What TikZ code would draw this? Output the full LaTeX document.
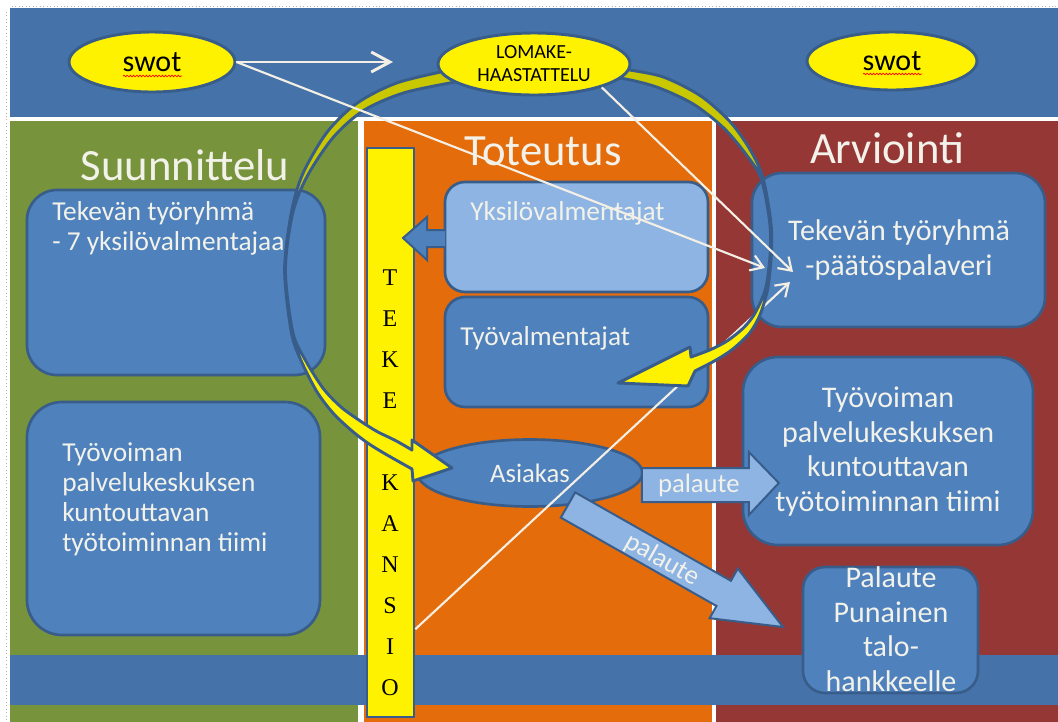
\documentclass[tikz,border=0pt]{standalone}
\usepackage{fontspec}
\setmainfont{Carlito}
\newfontfamily\kansiofont{Liberation Serif}
\usetikzlibrary{shapes.geometric,arrows.meta,calc,decorations.pathmorphing}
\definecolor{bandblue}{HTML}{4672AA}
\definecolor{boxblue}{HTML}{4F81BD}
\definecolor{boxedge}{HTML}{385D8A}
\definecolor{lightbox}{HTML}{8DB4E2}
\definecolor{panelgreen}{HTML}{77933C}
\definecolor{panelorange}{HTML}{E46C0A}
\definecolor{panelred}{HTML}{953735}
\definecolor{olivearc}{HTML}{C9C800}
\definecolor{lighttext}{HTML}{F2F2EA}
\definecolor{linewhite}{HTML}{F4EFE4}
\def\leftarc{plot[smooth] coordinates {(460,67) (449.7,69.9) (396.6,83.0) (356.5,103.5) (326.7,132.7) (302.7,174.0) (291.3,212.8) (284.6,270) (291.3,332.2) (301.1,360.7) (316.9,391.7) (332.9,412.9) (350.1,429.3) (366.8,442.4) (384.7,453.6) (412,469)} -- (413,481) -- (452,468) -- (412,440) -- plot[smooth] coordinates {(412,450) (395.3,440.4) (377.2,431.6) (359.9,420.7) (341.1,407.1) (323.1,388.3) (304.9,359.3) (292.7,331.8) (285.4,270) (292.7,213.2) (307.3,176.0) (333.3,137.3) (363.5,110.5) (403.4,93.0) (454.3,82.1) (462,81)} -- cycle}
\def\rightarc{plot[smooth] coordinates {(616,67) (627.2,69.5) (663.4,77.0) (700.8,96.0) (730.6,122.3) (750.6,150.5) (762.9,177.6) (770.6,220) (771.6,250) (768,287) (760.4,313.9) (749.8,332.8) (732.5,349.3) (715.4,360.4) (695,371)} -- (688,386) -- (618,383) -- (690,347) -- plot[smooth] coordinates {(691,357) (710.6,349.6) (727.5,340.7) (744.2,327.2) (755.6,312.1) (766,287) (770.4,250) (769.4,220) (761.1,178.4) (745.4,153.5) (723.4,127.7) (693.2,104.0) (656.6,87.0) (622.8,78.5) (614,80)} -- cycle}
\begin{document}
\begin{tikzpicture}[x=0.75pt,y=-0.75pt,
  box/.style={rectangle, draw=boxedge, fill=boxblue, line width=2pt, inner sep=0pt, outer sep=0pt},
  lbox/.style={box, fill=lightbox},
  oval/.style={ellipse, draw=boxedge, line width=2.2pt, fill=yellow, inner sep=0pt, text=black},
  title/.style={text=lighttext, font=\fontsize{33.5pt}{36pt}\selectfont, inner sep=0pt, anchor=base},
  boxtext/.style={text=lighttext, font=\fontsize{20.5pt}{22.5pt}\selectfont, inner sep=0pt, align=left},
  bigtext/.style={text=lighttext, font=\fontsize{22.5pt}{26pt}\selectfont, inner sep=0pt, align=center},
  conn/.style={draw=linewhite, line width=1.6pt, -{Straight Barb[length=9pt,width=12pt]}},
  topconn/.style={draw=linewhite, line width=2.2pt, -{Straight Barb[length=14pt,width=15pt]}},
  blockarrow/.style={draw=boxedge, line width=1.5pt, fill=lightbox, line join=miter},
  ringedge/.style={draw=boxedge, line width=2.2pt, line join=round},
  squiggle/.style={red, line width=0.5pt, decorate, decoration={snake, amplitude=0.6pt, segment length=2.4pt}}
]
\fill[white] (0,0) rectangle (1058,722);
\useasboundingbox (0,0) rectangle (1058,722);
\draw[gray!60, dotted, line width=0.6pt] (12,6) -- (1058,6);
\draw[gray!60, dotted, line width=0.6pt] (6,12) -- (6,722);
% bands and panels
\fill[bandblue] (10,8) rectangle (1058,117);
\fill[panelgreen] (10,121) rectangle (358,722);
\fill[panelorange] (364,121) rectangle (712,722);
\fill[panelred] (716,121) rectangle (1058,722);
\fill[bandblue] (10,655) rectangle (1058,705);
% titles
\node[title] (t1) at (185,180) {Suunnittelu};
\node[title] (t2) at (543,165) {Toteutus};
\node[title] (t3) at (887,163) {Arviointi};
% boxes
\node[box, minimum width=223.5pt, minimum height=138.75pt, rounded corners=22.5pt] (g1) at (176,282.5) {};
\node[boxtext, anchor=north west] (g1t) at (52,199) {\strut Tekevän työryhmä\\- 7 yksilövalmentajaa};
\node[box, minimum width=219.75pt, minimum height=174.75pt, rounded corners=26.25pt] (g2) at (173.5,518.5) {};
\node[boxtext, anchor=north west] (g2t) at (62,440) {\strut Työvoiman\\palvelukeskuksen\\kuntouttavan\\työtoiminnan tiimi};
\node[lbox, minimum width=197.25pt, minimum height=82.5pt, rounded corners=15pt] (yks) at (576.5,237) {};
\node[boxtext, anchor=base west] (ykst) at (470,220) {Yksilövalmentajat};
\node[box, minimum width=197.25pt, minimum height=82.5pt, rounded corners=15pt] (tyo) at (576.5,352) {};
\node[boxtext, anchor=base west] (tyot) at (460,345) {Työvalmentajat};
\node[box, minimum width=219.75pt, minimum height=115.5pt, rounded corners=22.5pt] (paat) at (898.5,250) {};
\node[bigtext, anchor=north] (paatt) at (899,216) {\strut Tekevän työryhmä\\-päätöspalaveri};
\node[box, minimum width=217.5pt, minimum height=141pt, rounded corners=26.25pt] (tyr) at (888,451) {};
\node[bigtext, anchor=north] (tyrt) at (888,383) {\strut Työvoiman\\palvelukeskuksen\\kuntouttavan\\työtoiminnan tiimi};
\node[box, minimum width=131.25pt, minimum height=94.5pt, rounded corners=16.5pt] (pal) at (890.5,630) {};
\node[bigtext, anchor=north] (palt) at (891,563) {\strut Palaute\\Punainen\\talo-\\hankkeelle};
% TEKEKANSIO bar
\node[rectangle, draw=boxedge, fill=yellow, line width=2pt, minimum width=35.25pt, minimum height=426.75pt, inner sep=0pt] (bar) at (390.5,432.5) {};
\node[font=\kansiofont\fontsize{18pt}{30.75pt}\selectfont, align=center, inner sep=0pt] (kansio) at (390,483) {T\\E\\K\\E\\\mbox{}\\K\\A\\N\\S\\I\\O};
% small arrow Yksilovalmentajat -> kansio
\draw[blockarrow, fill=boxblue, shift={(yks.west)}] (0,-7) -- (-18,-7) -- (-18,-20) -- (-42,1) -- (-18,23) -- (-18,10) -- (0,10);
% Asiakas
\node[ellipse, draw=boxedge, fill=boxblue, line width=2pt, minimum width=168.75pt, minimum height=50.25pt, inner sep=0pt, text=lighttext, font=\fontsize{20pt}{24pt}\selectfont] (asiakas) at (530,473) {Asiakas};
% palaute arrows
\draw[blockarrow, shift={(asiakas.east)}] (-2,-5) -- (105,-5) -- (105,-21) -- (135,10) -- (105,42) -- (105,29) -- (-2,29) -- cycle;
\node[text=lighttext, font=\fontsize{20pt}{24pt}\selectfont, inner sep=0pt] (pal1) at ($(asiakas.east)+(55,12)$) {palaute};
\draw[blockarrow, shift={(asiakas.center)}] (45.2,19.4) -- (200.9,107.8) -- (207.8,95.6) -- (253,154) -- (179.6,145.2) -- (186.5,133) -- (30.8,44.6) -- cycle;
\node[text=lighttext, font=\fontsize{20pt}{24pt}\selectfont, inner sep=0pt, rotate=-29.6] (pal2) at ($(asiakas.center)+(132,87)$) {palaute};
% connector from kansio (under the yellow arrow)
\coordinate (tipC) at (790,282);
\draw[conn] ($(bar.south east)!0.156!(bar.north east)$) -- (tipC);
% circular arrows
\fill[yellow] \leftarc;
\fill[yellow] \rightarc;
\begin{scope}
  \clip (0,0) rectangle (1058,250);
  \fill[olivearc] \leftarc;
  \fill[olivearc] \rightarc;
\end{scope}
\draw[ringedge] \leftarc;
\draw[ringedge] \rightarc;
% top ellipses
\node[oval, minimum width=124.5pt, minimum height=45pt, font=\fontsize{22.5pt}{27pt}\selectfont] (swot1) at (152,62) {swot};
\node[oval, minimum width=144pt, minimum height=46.5pt, align=center, font=\fontsize{15pt}{17.25pt}\selectfont] (lomake) at (534,64) {LOMAKE-\\HAASTATTELU};
\node[oval, minimum width=127.5pt, minimum height=43.5pt, font=\fontsize{22.5pt}{27pt}\selectfont] (swot2) at (892,61) {swot};
\draw[squiggle] ($(swot1.center)+(-29,14)$) -- ++(59,0);
\draw[squiggle] ($(swot2.center)+(-29,13)$) -- ++(59,0);
% connectors
\coordinate (tipTop) at (393,62);
\coordinate (tipA) at (765,268);
\coordinate (tipB) at (793,272);
\draw[topconn] (swot1.east) -- (tipTop);
\draw[conn] (swot1.east) -- (tipA);
\draw[conn] (lomake.-19.5) -- (tipB);
\end{tikzpicture}
\end{document}
